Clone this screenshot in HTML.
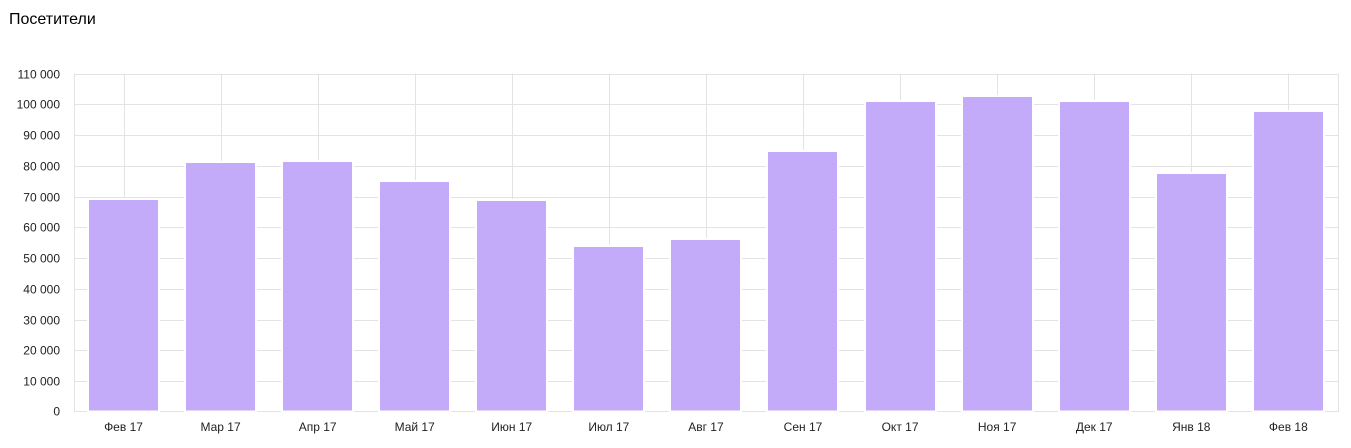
<!DOCTYPE html>
<html><head><meta charset="utf-8"><style>
body{margin:0;background:#fff;width:1351px;height:443px;overflow:hidden;font-family:"Liberation Sans",Arial,sans-serif}
</style></head><body>
<svg width="1351" height="443" xmlns="http://www.w3.org/2000/svg" font-family="Liberation Sans, Arial, sans-serif">
<text x="9" y="24" font-size="16" fill="#000">Посетители</text>
<g stroke="#e3e3e3" stroke-width="1" fill="none" id="grid"></g>
<g id="bars"></g>
<g id="lbl" font-size="12" fill="#222"></g>
</svg>
<script>
var ns="http://www.w3.org/2000/svg";
function el(p,t,a,txt){var e=document.createElementNS(ns,t);for(var k in a)e.setAttribute(k,a[k]);if(txt!=null)e.textContent=txt;document.getElementById(p).appendChild(e);}
var L=74.5,R=1338.5,T=73.5,B=412;
for(var i=0;i<=11;i++){var y=B-(B-T)*i/11;y=Math.round(y)+0.5;if(i==0)y=411.5;
el("grid","line",{x1:L,x2:R,y1:y,y2:y});
var s=i==0?"0":(i*10)+" 000";el("lbl","text",{x:60,y:y+4,"text-anchor":"end"},s);}
el("grid","line",{x1:L,x2:L,y1:T,y2:B});el("grid","line",{x1:R,x2:R,y1:T,y2:B});
var names=["Фев 17","Мар 17","Апр 17","Май 17","Июн 17","Июл 17","Авг 17","Сен 17","Окт 17","Ноя 17","Дек 17","Янв 18","Фев 18"];
var tops=[199,162,161,181,200,246,239,151,101,96,101,173,111];
for(var i=0;i<13;i++){var c=123.5+i*97.07;var cx=Math.round(c)+0.5;
el("grid","line",{x1:cx,x2:cx,y1:T,y2:B});
el("bars","rect",{x:Math.round(c-34.5)-1,y:tops[i],width:71,height:B-tops[i]-0.5,fill:"#c4abf9",stroke:"#fff","stroke-width":2});
el("lbl","text",{x:c,y:431,"text-anchor":"middle"},names[i]);}
</script>
</body></html>
